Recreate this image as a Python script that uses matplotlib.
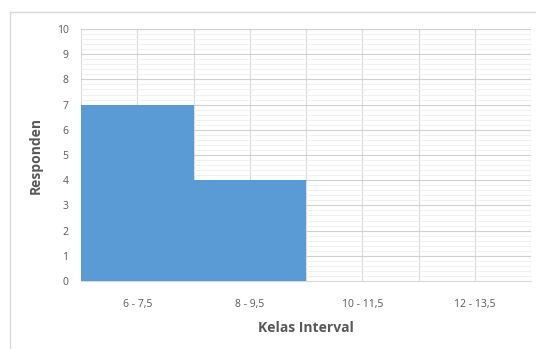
import numpy as np
import matplotlib.pyplot as plt
from matplotlib.patches import Rectangle

kelas = ["6 - 7,5", "8 - 9,5", "10 - 11,5", "12 - 13,5"]
responden = [7, 4, 0, 0]

plt.rcParams['font.family'] = ['Open Sans', 'DejaVu Sans']

fig = plt.figure(figsize=(5.36, 3.49), dpi=100)
# thin frame around the chart area
fig.patches.append(Rectangle((10 / 536, -0.1), 1.2, (349 - 12) / 349 + 0.1,
                             transform=fig.transFigure, facecolor='none',
                             edgecolor='#d9d9d9', linewidth=1.0, zorder=0))
ax = fig.add_axes([81 / 536, 68 / 349, 450 / 536, 252 / 349])

x = np.arange(len(kelas))
ax.bar(x, responden, width=1.0, color='#5b9bd5', zorder=3)

ax.set_xlim(-0.5, len(kelas) - 0.5)
ax.set_ylim(0, 10)
ax.set_yticks(np.arange(0, 11, 1))
ax.set_yticks(np.arange(0, 10.01, 0.2), minor=True)
ax.set_xticks(x)
ax.set_xticklabels(kelas)
ax.set_xticks(np.arange(-0.5, len(kelas), 1.0), minor=True)

ax.grid(which='major', axis='y', color='#d0d0d0', linewidth=0.8)
ax.grid(which='minor', axis='y', color='#eeeeee', linewidth=0.6)
ax.grid(which='both', axis='x', color='#dadada', linewidth=0.8)
ax.set_axisbelow(True)
ax.tick_params(which='both', length=0)
ax.tick_params(axis='both', labelsize=7.5, colors='#595959')
ax.tick_params(axis='x', pad=13)
ax.tick_params(axis='y', pad=9)
for s in ['top', 'right', 'left']:
    ax.spines[s].set_visible(False)
ax.spines['bottom'].set_color('#d9d9d9')

ax.set_xlabel("Kelas Interval", fontsize=10, fontweight='bold', color='#595959', labelpad=8)
ax.set_ylabel("Responden", fontsize=10, fontweight='bold', color='#595959', labelpad=10)

fig.savefig("out.png", dpi=100)
